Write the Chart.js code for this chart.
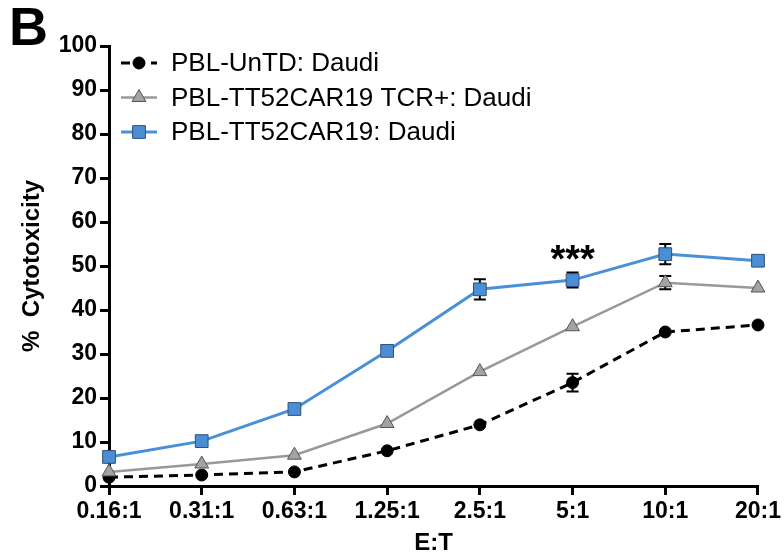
<!DOCTYPE html>
<html>
<head>
<meta charset="utf-8">
<script src="https://cdn.jsdelivr.net/npm/chart.js@4.4.1/dist/chart.umd.min.js"></script>
<style>
  html, body { margin: 0; padding: 0; background: #fff; }
  #wrap { position: relative; width: 784px; height: 558px; }
</style>
</head>
<body>
<div id="wrap"><canvas id="chart" width="784" height="558"></canvas></div>
<script>
const ratios = ["0.16:1", "0.31:1", "0.63:1", "1.25:1", "2.5:1", "5:1", "10:1", "20:1"];
const yTicks = [0, 10, 20, 30, 40, 50, 60, 70, 80, 90, 100];

const untd = [2.0, 2.5, 3.2, 8.0, 13.9, 23.5, 35.0, 36.6];
const untdErr = [0, 0, 0, 0, 0, 2.0, 0, 0];
const tcrPlus = [3.2, 5.0, 7.0, 14.2, 26.0, 36.2, 46.2, 45.0];
const tcrPlusErr = [0, 0, 0, 0, 0, 0, 1.5, 0];
const car19 = [6.6, 10.2, 17.5, 30.7, 44.7, 46.8, 52.7, 51.2];
const car19Err = [0, 0, 0, 0, 2.3, 1.7, 2.3, 1.0];

const font = "'Liberation Sans', Arial, sans-serif";

// error bars, drawn under the markers
const errorBars = {
    id: "errorBars",
    beforeDatasetsDraw(chart) {
        const { ctx, scales: { x, y } } = chart;
        ctx.save();
        ctx.strokeStyle = "#000";
        ctx.lineWidth = 2;
        chart.data.datasets.forEach((ds) => {
            ds.data.forEach((v, i) => {
                const e = ds.err[i];
                if (!e) return;
                const px = x.getPixelForValue(i);
                const top = y.getPixelForValue(v + e);
                const bot = y.getPixelForValue(v - e);
                ctx.beginPath();
                ctx.moveTo(px, top); ctx.lineTo(px, bot);
                ctx.moveTo(px - 6, top); ctx.lineTo(px + 6, top);
                ctx.moveTo(px - 6, bot); ctx.lineTo(px + 6, bot);
                ctx.stroke();
            });
        });
        ctx.restore();
    }
};

// legend with line + marker, and the text annotations
const extras = {
    id: "extras",
    afterDraw(chart) {
        const { ctx, scales: { x, y } } = chart;
        ctx.save();
        chart.data.datasets.forEach((ds, i) => {
            const cy = 63 + i * 34.5;
            ctx.beginPath();
            ctx.strokeStyle = ds.borderColor;
            ctx.lineWidth = ds.borderWidth;
            ctx.setLineDash(ds.borderDash || []);
            ctx.moveTo(121, cy); ctx.lineTo(157, cy);
            ctx.stroke();
            ctx.setLineDash([]);
            ctx.fillStyle = ds.pointBackgroundColor;
            ctx.strokeStyle = ds.pointBorderColor;
            ctx.lineWidth = ds.pointBorderWidth;
            Chart.helpers.drawPoint(ctx, {
                pointStyle: ds.pointStyle,
                radius: ds.pointRadius,
                borderWidth: ds.pointBorderWidth
            }, 139, cy);
            ctx.fillStyle = "#000";
            ctx.font = "26px " + font;
            ctx.textBaseline = "middle";
            ctx.textAlign = "left";
            ctx.fillText(ds.label, 171, cy + 1);
        });

        ctx.fillStyle = "#000";
        ctx.font = "bold 54px " + font;
        ctx.textBaseline = "alphabetic";
        ctx.textAlign = "left";
        ctx.fillText("B", 9, 45);

        ctx.font = "bold 38px " + font;
        ctx.textAlign = "center";
        ctx.fillText("***", x.getPixelForValue(5), y.getPixelForValue(49) + 2);
        ctx.restore();
    }
};

new Chart(document.getElementById("chart"), {
    type: "line",
    data: {
        labels: ratios,
        datasets: [
            {
                label: "PBL-UnTD: Daudi",
                data: untd,
                err: untdErr,
                borderColor: "#000",
                borderWidth: 3,
                borderDash: [9, 6],
                pointStyle: "circle",
                pointRadius: 6,
                pointBackgroundColor: "#000",
                pointBorderColor: "#000",
                pointBorderWidth: 1,
                order: 2,
            },
            {
                label: "PBL-TT52CAR19 TCR+: Daudi",
                data: tcrPlus,
                err: tcrPlusErr,
                borderColor: "#999999",
                borderWidth: 2.5,
                pointStyle: "triangle",
                pointRadius: 8,
                pointBackgroundColor: "#a3a3a3",
                pointBorderColor: "#555",
                pointBorderWidth: 1,
                order: 1,
            },
            {
                label: "PBL-TT52CAR19: Daudi",
                data: car19,
                err: car19Err,
                borderColor: "#4a90d9",
                borderWidth: 3,
                pointStyle: "rect",
                pointRadius: 9,
                pointBackgroundColor: "#4a8ed6",
                pointBorderColor: "#2d4f78",
                pointBorderWidth: 1,
                order: 0,
            },
        ],
    },
    options: {
        responsive: false,
        animation: false,
        clip: false,
        layout: { padding: { top: 46, right: 24, bottom: 0, left: 0 } },
        plugins: {
            legend: { display: false },
            tooltip: { enabled: false },
        },
        elements: { line: { tension: 0 } },
        scales: {
            x: {
                offset: false,
                border: { display: true, color: "#000", width: 3 },
                grid: { display: true, drawOnChartArea: false, drawTicks: true, tickLength: 9, color: "#000", lineWidth: 3 },
                ticks: { color: "#000", font: { family: font, size: 23, weight: "bold" }, padding: 3, maxRotation: 0, autoSkip: false },
                title: { display: true, text: "E:T", color: "#000", font: { family: font, size: 24, weight: "bold" }, padding: { top: 0, bottom: 0 } },
                afterFit(s) { s.height = 72; },
            },
            y: {
                min: 0,
                max: 100,
                afterBuildTicks(s) { s.ticks = yTicks.map((v) => ({ value: v })); },
                border: { display: true, color: "#000", width: 3 },
                grid: { display: true, drawOnChartArea: false, drawTicks: true, tickLength: 9, color: "#000", lineWidth: 3 },
                ticks: { color: "#000", font: { family: font, size: 23, weight: "bold" }, padding: 3 },
                title: { display: true, text: "%  Cytotoxicity", color: "#000", font: { family: font, size: 24, weight: "bold" }, padding: { top: 18, bottom: 0 } },
                afterFit(s) { s.width = 109; },
            },
        },
    },
    plugins: [errorBars, extras],
});
</script>
</body>
</html>
